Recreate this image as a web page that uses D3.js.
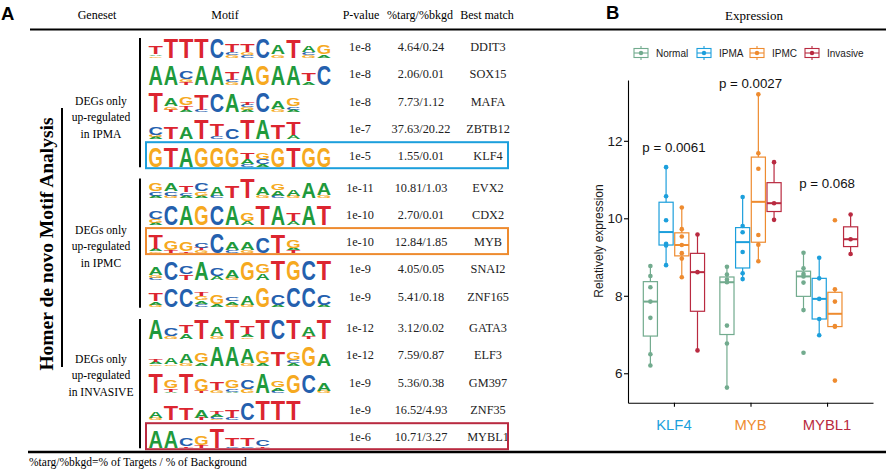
<!DOCTYPE html>
<html>
<head>
<meta charset="utf-8">
<script src="https://cdn.jsdelivr.net/npm/d3@7"></script>
<style>
  body { margin: 0; background: #fff; }
  text { font-family: "Liberation Serif", "Times New Roman", serif; }
  .sans { font-family: "Liberation Sans", Arial, sans-serif; }
</style>
</head>
<body>
<script>
// ---- panel A data: homer motifs (letters stacked top -> bottom, letter + height in %)
var motifs = [
  "T40A08G06 T99 T99 T99 C99 T40C15G10 T40G15C10 C99 A45G15 T90 A30C15G10 G45A15",
  "A99 A99 C35G15T10 A99 A99 T35C10G10 A99 G99 A99 A99 T35A15 C99",
  "T99 A40G15T10 G40T20A10 T75C10 C90 A90 T12C10G10A10 C99 A40G12 G35C15A10",
  "C35G10A10 T60 A55 T99 T55C15 C50 T99 A99 T70 T65A20",
  "G99 T99 A99 G99 G99 G99 T30A25C10 G30C25A10 G99 T99 G99 G99",
  "G35C20A10 A35C20G10 T30C15A10 C35G20A10 A45C10 T60 T99 A40G15 G30A25C10 A30G10 A75 A55G15",
  "C35G20A10 C99 A99 G99 C99 A99 G35A20 T99 A99 T35A20 A99 T99",
  "T70A10G05 G45T10 G45T08 C25T10G10 C99 A40C10 A35G10 C75 T90 G40A10T10",
  "A35G10C10 C90 C40T25 A90 C35A20 A35G10 G90 G45A30 T99 G99 C99 T99",
  "T35A15G10 C90 C90 T20G20A15C15 G45A15 C20A15G10 A45G10 G99 C50A10 C99 C99 C50A10",
  "A99 C40G10 T40A25 T99 A45G10 T99 T40A15G05 T99 C99 T99 A45T10 T99",
  "T15A10G05 A30G05 A45G10 G45A15 A99 A99 A70G10 G55A10 T70 G35C15A10 G99 A60",
  "T99 G35T15A05 T99 G60T10 T35G15 G35C15A05 C45G20 A99 G30A15C10 G90 C90 A35G10",
  "A30G10 T70 T60 A35T10 T15A10C10G05 T40C10 C85 T99 T99 T99",
  "A85 A85 C35T05 G45T10 T99 T35C05 T35C05 C30T05"
];
var pvalues = ["1e-8","1e-8","1e-8","1e-7","1e-5","1e-11","1e-10","1e-10","1e-9","1e-9",
               "1e-12","1e-12","1e-9","1e-9","1e-6"];
var ratios = ["4.64/0.24","2.06/0.01","7.73/1.12","37.63/20.22","1.55/0.01","10.81/1.03",
              "2.70/0.01","12.84/1.85","4.05/0.05","5.41/0.18","3.12/0.02","7.59/0.87",
              "5.36/0.38","16.52/4.93","10.71/3.27"];
var bestMatch = ["DDIT3","SOX15","MAFA","ZBTB12","KLF4","EVX2","CDX2","MYB","SNAI2","ZNF165",
                 "GATA3","ELF3","GM397","ZNF35","MYBL1"];
var rowGroup = [0,0,0,0,0,1,1,1,1,1,2,2,2,2,2];
var genesetLabels = [
  ["DEGs only", "up-regulated", "in IPMA"],
  ["DEGs only", "up-regulated", "in IPMC"],
  ["DEGs only", "up-regulated", "in INVASIVE"]
];
var highlightRows = [4, 7, 14];   // KLF4, MYB, MYBL1

// ---- panel B data: relative expression
var genes = ["KLF4", "MYB", "MYBL1"];
var groups = ["Normal", "IPMA", "IPMC", "Invasive"];
var klf4Expr = [
  [8.77, 8.51, 8.22, 7.85, 7.43, 6.49, 6.20],
  [11.32, 10.57, 9.95, 9.34, 9.30, 8.79],
  [10.28, 9.72, 9.53, 9.31, 9.10, 8.96, 8.48],
  [9.58, 8.61, 6.59]
];
var mybExpr = [
  [8.75, 8.55, 8.42, 8.35, 7.23, 6.77, 5.63],
  [10.55, 9.80, 9.64, 9.13, 8.58, 8.43],
  [13.20, 11.68, 11.28, 9.57, 9.32, 8.89],
  [11.45, 10.39, 9.96]
];
var mybl1Expr = [
  [9.11, 8.71, 8.56, 8.50, 8.34, 7.63, 6.53],
  [8.98, 8.45, 7.92, 7.40, 6.98],
  [9.95, 8.17, 7.85, 7.22, 7.20, 5.81],
  [10.10, 9.46, 9.08]
];
var pLabels = ["p = 0.0061", "p = 0.0027", "p = 0.068"];
var pLabelY = [11.85, 13.48, 10.9];
var yTicks = [6, 8, 10, 12];

var exprByGene = [klf4Expr, mybExpr, mybl1Expr];

var baseColors = { A: "#1f9a3c", C: "#2460ae", G: "#f6a920", T: "#dc2530" };
var groupColors = d3.scaleOrdinal()
    .domain(groups)
    .range(["#72ab8e", "#1c9fdc", "#ee8b2f", "#b92a40"]);
var geneColors = d3.scaleOrdinal()
    .domain(genes)
    .range(["#1c9fdc", "#ee8b2f", "#b92a40"]);

var svg = d3.select("body").append("svg")
    .attr("width", 886)
    .attr("height", 473);

// ================= panel A =================
var A = svg.append("g");

A.append("text").attr("class", "sans")
    .attr("x", 1).attr("y", 19.5)
    .attr("font-size", 18.5).attr("font-weight", "bold")
    .text("A");

var headers = [["Geneset", 97], ["Motif", 225], ["P-value", 361], ["%targ/%bkgd", 420], ["Best match", 487]];
A.selectAll("text.hdr")
    .data(headers)
    .enter().append("text")
      .attr("class", "hdr")
      .attr("x", function(d) { return d[1]; })
      .attr("y", 19)
      .attr("text-anchor", "middle")
      .attr("font-size", 12)
      .text(function(d) { return d[0]; });

// top and bottom rules span both panels
svg.append("line")
    .attr("x1", 30).attr("x2", 886).attr("y1", 29.5).attr("y2", 29.5)
    .attr("stroke", "#000").attr("stroke-width", 2);
svg.append("line")
    .attr("x1", 28).attr("x2", 886).attr("y1", 452).attr("y2", 452)
    .attr("stroke", "#000").attr("stroke-width", 2.5);

A.append("text")
    .attr("x", 29).attr("y", 466)
    .attr("font-size", 11.5)
    .text("%targ/%bkgd=% of Targets / % of Background");

function rowY(i) { return 47 + i * 27.3 + rowGroup[i] * 4; }

// group brackets
var groupRows = d3.groups(d3.range(motifs.length), function(i) { return rowGroup[i]; });
A.selectAll("line.bracket")
    .data(groupRows)
    .enter().append("line")
      .attr("class", "bracket")
      .attr("x1", 140).attr("x2", 140)
      .attr("y1", function(d) { return rowY(d[1][0]) - 9; })
      .attr("y2", function(d) { return rowY(d[1][d[1].length - 1]) + 11; })
      .attr("stroke", "#000").attr("stroke-width", 2);

var labelMidY = [117, 246, 375];
genesetLabels.forEach(function(lines, g) {
  A.append("text")
      .attr("x", 101)
      .attr("y", labelMidY[g] - 16.5 + 4)
      .attr("text-anchor", "middle")
      .attr("font-size", 11.6)
    .selectAll("tspan")
    .data(lines)
    .enter().append("tspan")
      .attr("x", 101)
      .attr("dy", function(d, i) { return i === 0 ? 0 : 16.5; })
      .text(function(d) { return d; });
});

A.append("line")
    .attr("x1", 62).attr("x2", 62).attr("y1", 108).attr("y2", 367)
    .attr("stroke", "#000").attr("stroke-width", 2);

A.append("text")
    .attr("transform", "translate(53,244) rotate(-90)")
    .attr("text-anchor", "middle")
    .attr("font-size", 19.5)
    .attr("font-weight", "bold")
    .text("Homer de novo Motif Analysis");

// sequence logos
var cellW = 15.3, logoX0 = 148, fullH = 20.5, capRatio = 0.716, logoFont = 20;
var xPos = d3.scaleLinear().domain([0, 1]).range([logoX0, logoX0 + cellW]);

motifs.forEach(function(m, i) {
  var base = rowY(i) + 10.5;
  var g = A.append("g").attr("class", "logo");
  m.split(" ").forEach(function(pos, j) {
    var stack = pos.match(/[ACGT]\d\d/g).map(function(s) {
      return { b: s[0], h: +s.slice(1) / 100 };
    });
    var yCur = base;
    stack.slice().reverse().forEach(function(s) {
      var h = s.h * fullH;
      g.append("text").attr("class", "sans")
          .attr("x", 0).attr("y", 0)
          .attr("font-size", logoFont)
          .attr("font-weight", "bold")
          .attr("fill", baseColors[s.b])
          .attr("textLength", cellW * 0.94)
          .attr("lengthAdjust", "spacingAndGlyphs")
          .attr("transform", "translate(" + (xPos(j) + cellW * 0.03) + "," + yCur + ") scale(1," + (h / (capRatio * logoFont)) + ")")
          .text(s.b);
      yCur -= h + 0.3;
    });
  });
});

// table columns
var cols = [[pvalues, 360], [ratios, 421], [bestMatch, 488]];
cols.forEach(function(c) {
  A.selectAll(null)
      .data(c[0])
      .enter().append("text")
        .attr("x", c[1])
        .attr("y", function(d, i) { return rowY(i) + 4; })
        .attr("text-anchor", "middle")
        .attr("font-size", 12.3)
        .attr("fill", "#222")
        .text(function(d) { return d; });
});

// highlight boxes
A.selectAll("rect.hl")
    .data(highlightRows)
    .enter().append("rect")
      .attr("class", "hl")
      .attr("x", 146).attr("width", 362)
      .attr("y", function(r) { return rowY(r) - 14; })
      .attr("height", 26)
      .attr("fill", "none")
      .attr("stroke", function(r) { return geneColors(bestMatch[r]); })
      .attr("stroke-width", 2);

// ================= panel B =================
var B = svg.append("g");

B.append("text").attr("class", "sans")
    .attr("x", 606).attr("y", 19)
    .attr("font-size", 18.5).attr("font-weight", "bold")
    .text("B");
B.append("text")
    .attr("x", 754).attr("y", 20)
    .attr("text-anchor", "middle")
    .attr("font-size", 13)
    .text("Expression");

var y = d3.scaleLinear().domain([5.24, 13.57]).range([402.7, 80]);
var x = d3.scalePoint().domain(genes).range([628, 873]).padding(0.6);
var xg = d3.scaleBand().domain(groups)
    .range([-0.4 * x.step(), 0.4 * x.step()])
    .paddingInner(0.1);
var bw = xg.bandwidth();

var yAxis = B.append("g")
    .attr("transform", "translate(628,0)")
    .call(d3.axisLeft(y).tickValues(yTicks).tickSize(4).tickSizeOuter(0));
var xAxis = B.append("g")
    .attr("transform", "translate(0,402.7)")
    .call(d3.axisBottom(x).tickSize(4).tickSizeOuter(0).tickFormat(""));
[yAxis, xAxis].forEach(function(ax) {
  ax.select(".domain").attr("stroke", "#000").attr("stroke-width", 1.1);
  ax.selectAll(".tick line").attr("stroke", "#000").attr("stroke-width", 1.1);
});
yAxis.selectAll(".tick text")
    .attr("class", "sans")
    .attr("font-size", 13.5)
    .attr("fill", "#1a1a1a")
    .attr("x", -5.5);

B.selectAll("text.gene")
    .data(genes)
    .enter().append("text")
      .attr("class", "sans gene")
      .attr("x", function(d) { return x(d); })
      .attr("y", 429.5)
      .attr("text-anchor", "middle")
      .attr("font-size", 14.8)
      .attr("fill", function(d) { return geneColors(d); })
      .text(function(d) { return d; });

B.append("text").attr("class", "sans")
    .attr("transform", "translate(603,241) rotate(-90)")
    .attr("text-anchor", "middle")
    .attr("font-size", 12)
    .attr("fill", "#1a1a1a")
    .text("Relatively expression");

// boxplots
function boxStats(vals) {
  var s = vals.slice().sort(d3.ascending);
  var q1 = d3.quantile(s, 0.25), med = d3.quantile(s, 0.5), q3 = d3.quantile(s, 0.75);
  var iqr = q3 - q1;
  var lo = d3.min(s.filter(function(v) { return v >= q1 - 1.5 * iqr; }));
  var hi = d3.max(s.filter(function(v) { return v <= q3 + 1.5 * iqr; }));
  return { q1: q1, med: med, q3: q3, lo: lo, hi: hi };
}

var boxes = [];
genes.forEach(function(gene, gi) {
  groups.forEach(function(grp, k) {
    boxes.push({ gene: gene, group: grp, values: exprByGene[gi][k], st: boxStats(exprByGene[gi][k]) });
  });
});

var box = B.selectAll("g.box")
    .data(boxes)
    .enter().append("g")
      .attr("class", "box")
      .attr("transform", function(d) { return "translate(" + (x(d.gene) + xg(d.group) + bw / 2) + ",0)"; });

box.append("line")
    .attr("y1", function(d) { return y(d.st.hi); })
    .attr("y2", function(d) { return y(d.st.q3); })
    .attr("stroke", function(d) { return groupColors(d.group); })
    .attr("stroke-width", 1.2);
box.append("line")
    .attr("y1", function(d) { return y(d.st.q1); })
    .attr("y2", function(d) { return y(d.st.lo); })
    .attr("stroke", function(d) { return groupColors(d.group); })
    .attr("stroke-width", 1.2);
box.append("rect")
    .attr("x", -bw / 2).attr("width", bw)
    .attr("y", function(d) { return y(d.st.q3); })
    .attr("height", function(d) { return y(d.st.q1) - y(d.st.q3); })
    .attr("fill", "none")
    .attr("stroke", function(d) { return groupColors(d.group); })
    .attr("stroke-width", 1.2);
box.append("line")
    .attr("x1", -bw / 2).attr("x2", bw / 2)
    .attr("y1", function(d) { return y(d.st.med); })
    .attr("y2", function(d) { return y(d.st.med); })
    .attr("stroke", function(d) { return groupColors(d.group); })
    .attr("stroke-width", 2);
box.selectAll("circle")
    .data(function(d) { return d.values.map(function(v) { return { v: v, group: d.group }; }); })
    .enter().append("circle")
      .attr("cx", 0)
      .attr("cy", function(d) { return y(d.v); })
      .attr("r", 2.3)
      .attr("fill", function(d) { return groupColors(d.group); });

B.selectAll("text.p")
    .data(genes)
    .enter().append("text")
      .attr("class", "sans p")
      .attr("x", function(d) { return x(d); })
      .attr("y", function(d, i) { return y(pLabelY[i]) + 5; })
      .attr("text-anchor", "middle")
      .attr("font-size", 13.3)
      .attr("fill", "#111")
      .text(function(d, i) { return pLabels[i]; });

// legend
var legendX = [641, 704, 757, 812];
var leg = B.selectAll("g.leg")
    .data(groups)
    .enter().append("g")
      .attr("class", "leg")
      .attr("transform", function(d, i) { return "translate(" + legendX[i] + ",53)"; });
leg.append("line")
    .attr("y1", -7).attr("y2", 7)
    .attr("stroke", function(d) { return groupColors(d); }).attr("stroke-width", 1.1);
leg.append("rect")
    .attr("x", -7).attr("y", -4.5).attr("width", 14).attr("height", 9)
    .attr("fill", "#fff")
    .attr("stroke", function(d) { return groupColors(d); }).attr("stroke-width", 1.1);
leg.append("line")
    .attr("x1", -7).attr("x2", 7)
    .attr("stroke", function(d) { return groupColors(d); }).attr("stroke-width", 1.1);
leg.append("circle")
    .attr("r", 2.2)
    .attr("fill", function(d) { return groupColors(d); });
leg.append("text").attr("class", "sans")
    .attr("x", 15).attr("y", 3.6)
    .attr("font-size", 10)
    .attr("fill", "#1a1a1a")
    .text(function(d) { return d; });
</script>
</body>
</html>
